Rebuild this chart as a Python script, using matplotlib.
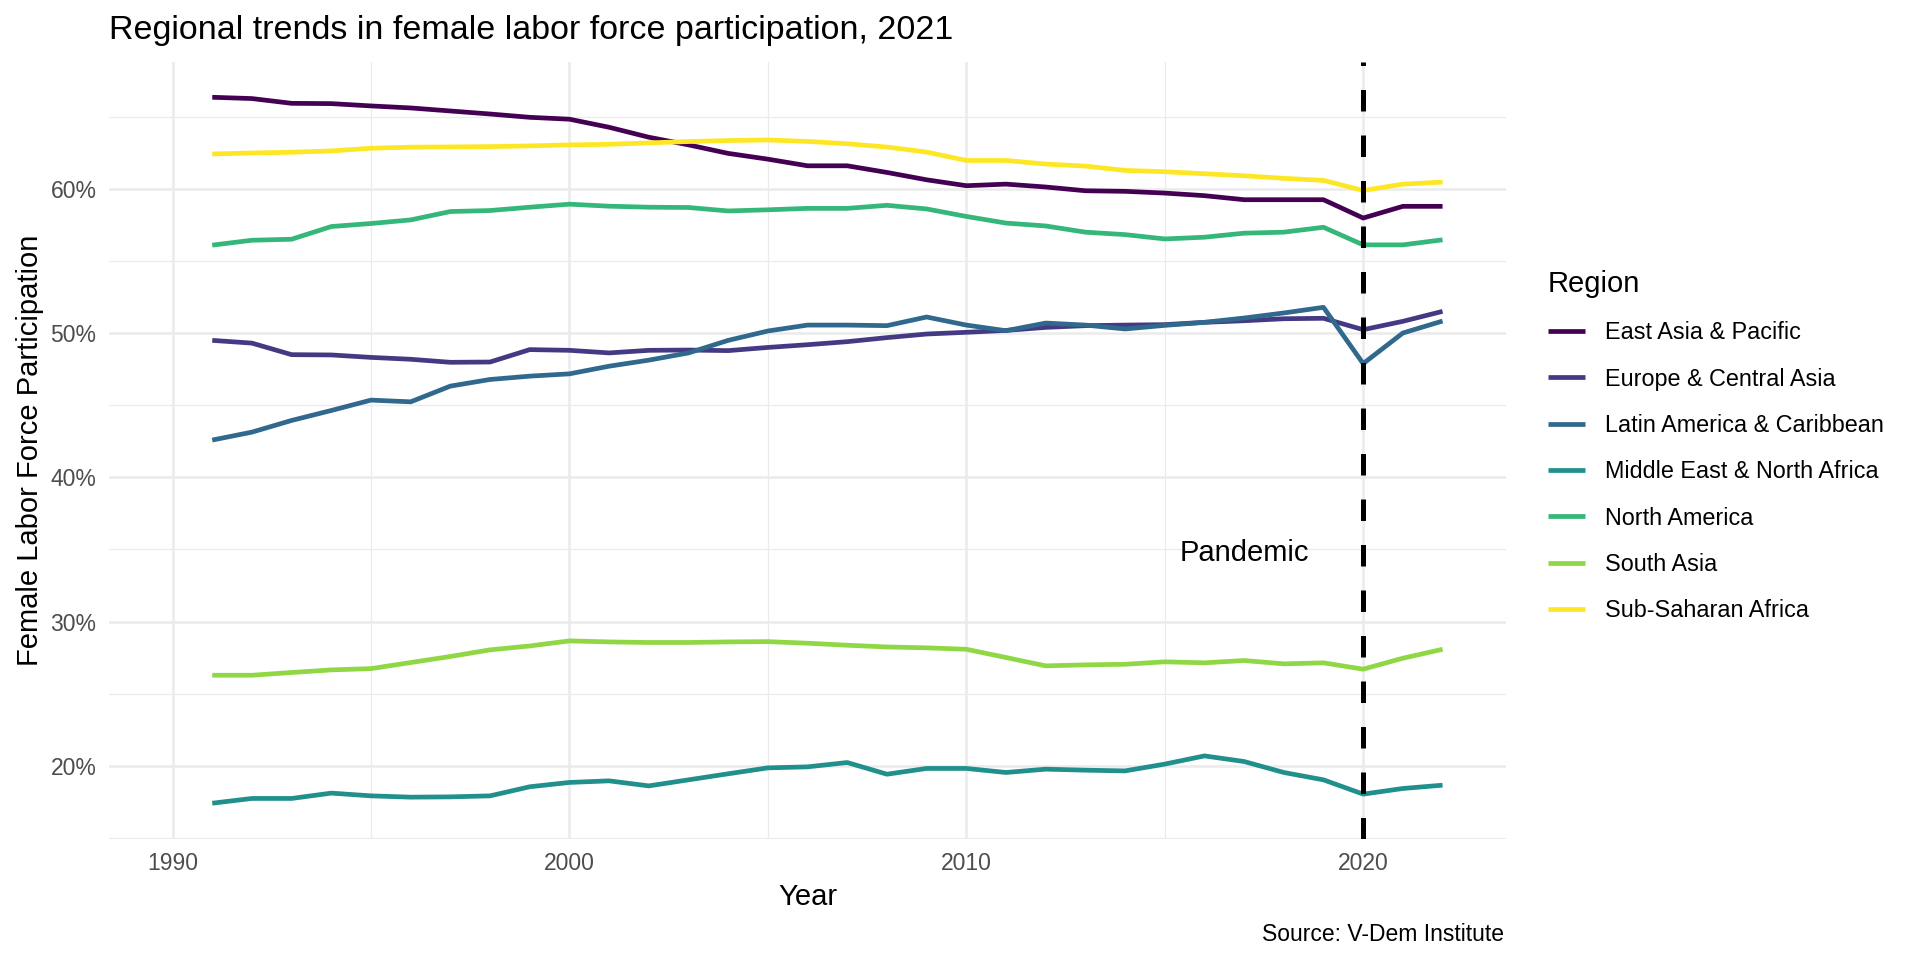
import numpy as np
import matplotlib.pyplot as plt
from matplotlib.ticker import PercentFormatter, MultipleLocator

plt.rcParams['font.family'] = ['Liberation Sans', 'DejaVu Sans']

years = np.arange(1991, 2023)
regions = ['East Asia & Pacific', 'Europe & Central Asia', 'Latin America & Caribbean',
           'Middle East & North Africa', 'North America', 'South Asia', 'Sub-Saharan Africa']
colors = ['#440154', '#443A83', '#31688E', '#21908C', '#35B779', '#8FD744', '#FDE725']

# female labor force participation, %
east_asia = [66.34, 66.25, 65.92, 65.90, 65.74, 65.60, 65.39, 65.18, 64.95, 64.82,
             64.26, 63.57, 63.04, 62.45, 62.05, 61.59, 61.59, 61.13, 60.62, 60.21,
             60.32, 60.12, 59.86, 59.82, 59.70, 59.52, 59.24, 59.24, 59.24, 57.97,
             58.78, 58.78]
europe = [49.49, 49.30, 48.50, 48.48, 48.31, 48.18, 47.97, 47.99, 48.85, 48.80,
          48.62, 48.80, 48.82, 48.78, 49.00, 49.19, 49.40, 49.68, 49.93, 50.05,
          50.18, 50.39, 50.51, 50.55, 50.58, 50.74, 50.85, 50.99, 51.02, 50.23,
          50.81, 51.50]
latin = [42.58, 43.13, 43.94, 44.63, 45.35, 45.23, 46.32, 46.78, 47.01, 47.17,
         47.70, 48.12, 48.62, 49.49, 50.14, 50.55, 50.55, 50.51, 51.11, 50.55,
         50.16, 50.69, 50.55, 50.28, 50.53, 50.74, 51.04, 51.39, 51.78, 47.88,
         50.00, 50.83]
mena = [17.41, 17.74, 17.74, 18.11, 17.92, 17.83, 17.85, 17.92, 18.55, 18.85,
        18.96, 18.61, 19.03, 19.45, 19.86, 19.93, 20.23, 19.42, 19.82, 19.82,
        19.54, 19.77, 19.70, 19.65, 20.12, 20.69, 20.30, 19.54, 19.03, 18.04,
        18.43, 18.66]
north_america = [56.09, 56.43, 56.50, 57.38, 57.59, 57.84, 58.42, 58.49, 58.72, 58.93,
                 58.79, 58.72, 58.70, 58.46, 58.54, 58.64, 58.64, 58.85, 58.60, 58.08,
                 57.62, 57.42, 56.99, 56.82, 56.52, 56.64, 56.92, 56.99, 57.33, 56.11,
                 56.11, 56.46]
south_asia = [26.28, 26.28, 26.47, 26.65, 26.74, 27.16, 27.58, 28.04, 28.31, 28.66,
              28.59, 28.55, 28.55, 28.59, 28.61, 28.50, 28.36, 28.24, 28.18, 28.08,
              27.51, 26.93, 27.00, 27.04, 27.21, 27.14, 27.30, 27.07, 27.14, 26.70,
              27.46, 28.08]
ssa = [62.41, 62.48, 62.53, 62.62, 62.81, 62.88, 62.90, 62.92, 62.97, 63.04,
       63.08, 63.18, 63.27, 63.34, 63.38, 63.28, 63.12, 62.89, 62.54, 61.96,
       61.96, 61.71, 61.57, 61.27, 61.18, 61.04, 60.90, 60.72, 60.58, 59.88,
       60.32, 60.46]
series = [east_asia, europe, latin, mena, north_america, south_asia, ssa]

fig = plt.figure(figsize=(19.2, 9.6), dpi=100)
ax = fig.add_axes([0.0568, 0.1265, 0.7276, 0.809])

for name, col, vals in zip(regions, colors, series):
    ax.plot(years, vals, color=col, lw=3.4, label=name, solid_capstyle='butt')

vl = ax.axvline(2020, color='black', lw=3.6, zorder=5)
vl.set_dashes((4.3, 4.8))
ax.annotate('Pandemic', xy=(2017, 35), xytext=(0, -8.6), textcoords='offset points',
            ha='center', va='baseline', fontsize=21)

ax.set_xlim(1988.4, 2023.6)
ax.set_ylim(14.96, 68.79)
ax.xaxis.set_major_locator(MultipleLocator(10))
ax.xaxis.set_minor_locator(MultipleLocator(5))
ax.yaxis.set_major_locator(MultipleLocator(10))
ax.yaxis.set_minor_locator(MultipleLocator(5))
ax.yaxis.set_major_formatter(PercentFormatter(decimals=0))
ax.grid(which='major', color='#EBEBEB', lw=1.8)
ax.grid(which='minor', color='#EBEBEB', lw=0.9)
ax.set_axisbelow(True)
for s in ax.spines.values():
    s.set_visible(False)
ax.tick_params(which='both', length=0, labelsize=16.5, labelcolor='#4D4D4D')
ax.tick_params(axis='x', pad=10)
ax.tick_params(axis='y', pad=9)

fig.text(109 / 1920, 1 - 39 / 960, 'Regional trends in female labor force participation, 2021',
         fontsize=24.5, va='baseline', ha='left')
fig.text(0.4206, 1 - 905 / 960, 'Year', fontsize=21, ha='center', va='baseline')
fig.text(30 / 1920, 0.531, 'Female Labor Force Participation', fontsize=21,
         rotation=90, ha='center', va='center')
fig.text(1504 / 1920, 1 - 941 / 960, 'Source: V-Dem Institute', fontsize=16.5,
         ha='right', va='baseline')

leg = ax.legend(title='Region', loc='upper left', bbox_to_anchor=(1548 / 1920, 1 - 270 / 960),
                bbox_transform=fig.transFigure, frameon=False, fontsize=16.8,
                title_fontsize=21, handlelength=1.6, handletextpad=0.86,
                labelspacing=1.0, borderpad=0, borderaxespad=0, alignment='left')

fig.savefig('out.png', dpi=100)
